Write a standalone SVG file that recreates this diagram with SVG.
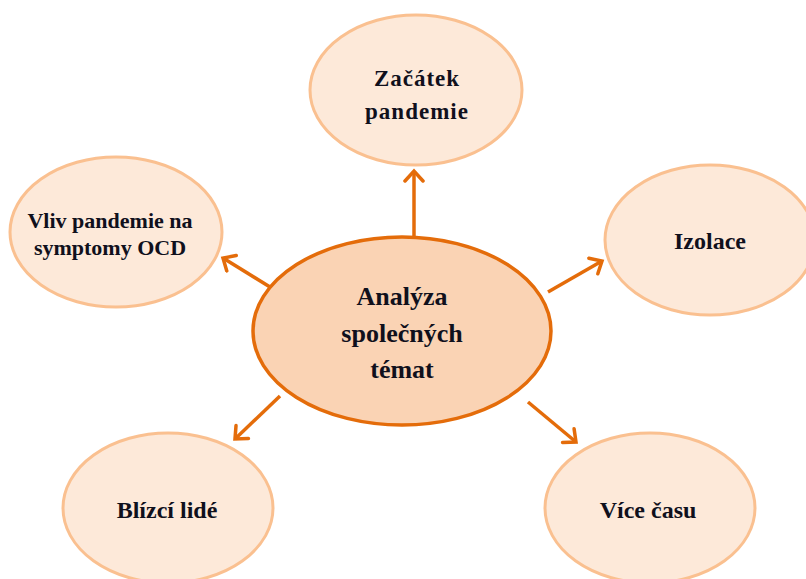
<svg xmlns="http://www.w3.org/2000/svg" width="806" height="579" viewBox="0 0 806 579">
<style>
.outer{fill:#FDE9D9;stroke:#FAC090;stroke-width:3}
.center{fill:#FAD3B4;stroke:#E46C0A;stroke-width:3.5}
.conn{stroke:#E46C0A;stroke-width:3.5;fill:none;marker-end:url(#arr)}
text{font-family:"Liberation Serif","Times New Roman",serif;font-weight:bold;fill:#10101c;text-anchor:middle}
.s22{font-size:22px}
.s23{font-size:23px}
.s24{font-size:24px}
.s26{font-size:26px}
</style>
<defs>
<marker id="arr" markerUnits="userSpaceOnUse" markerWidth="22" markerHeight="22" refX="12" refY="11" orient="auto">
<path d="M2,2 L12,11 L2,20" fill="none" stroke="#E46C0A" stroke-width="3.5" stroke-linecap="round" stroke-linejoin="miter"/>
</marker>
</defs>
<rect width="806" height="579" fill="#ffffff"/>
<g id="connectors">
<line class="conn" x1="414" y1="238" x2="414" y2="171"/>
<line class="conn" x1="548" y1="292" x2="602" y2="261"/>
<line class="conn" x1="270" y1="287" x2="223" y2="258"/>
<line class="conn" x1="280" y1="396" x2="235" y2="439"/>
<line class="conn" x1="528" y1="402" x2="576" y2="442"/>
</g>
<g id="center">
<ellipse class="center" cx="402" cy="331" rx="149" ry="94"/>
<text class="s26" x="402" y="305">Analýza</text>
<text class="s26" x="402" y="342">společných</text>
<text class="s26" x="402" y="378">témat</text>
</g>
<g id="zacatek">
<ellipse class="outer" cx="416" cy="90" rx="106" ry="75"/>
<text class="s23" x="417" y="86" letter-spacing="1">Začátek</text>
<text class="s23" x="417" y="119" letter-spacing="1">pandemie</text>
</g>
<g id="vliv">
<ellipse class="outer" cx="116" cy="232" rx="106" ry="75"/>
<text class="s22" x="110" y="228">Vliv pandemie na</text>
<text class="s22" x="110" y="255">symptomy OCD</text>
</g>
<g id="izolace">
<ellipse class="outer" cx="710" cy="240" rx="105" ry="75"/>
<text class="s24" x="710" y="249">Izolace</text>
</g>
<g id="blizci">
<ellipse class="outer" cx="168" cy="508" rx="105" ry="75"/>
<text class="s24" x="167" y="518">Blízcí lidé</text>
</g>
<g id="vice">
<ellipse class="outer" cx="650" cy="508" rx="105" ry="75"/>
<text class="s24" x="648" y="518">Více času</text>
</g>
</svg>
